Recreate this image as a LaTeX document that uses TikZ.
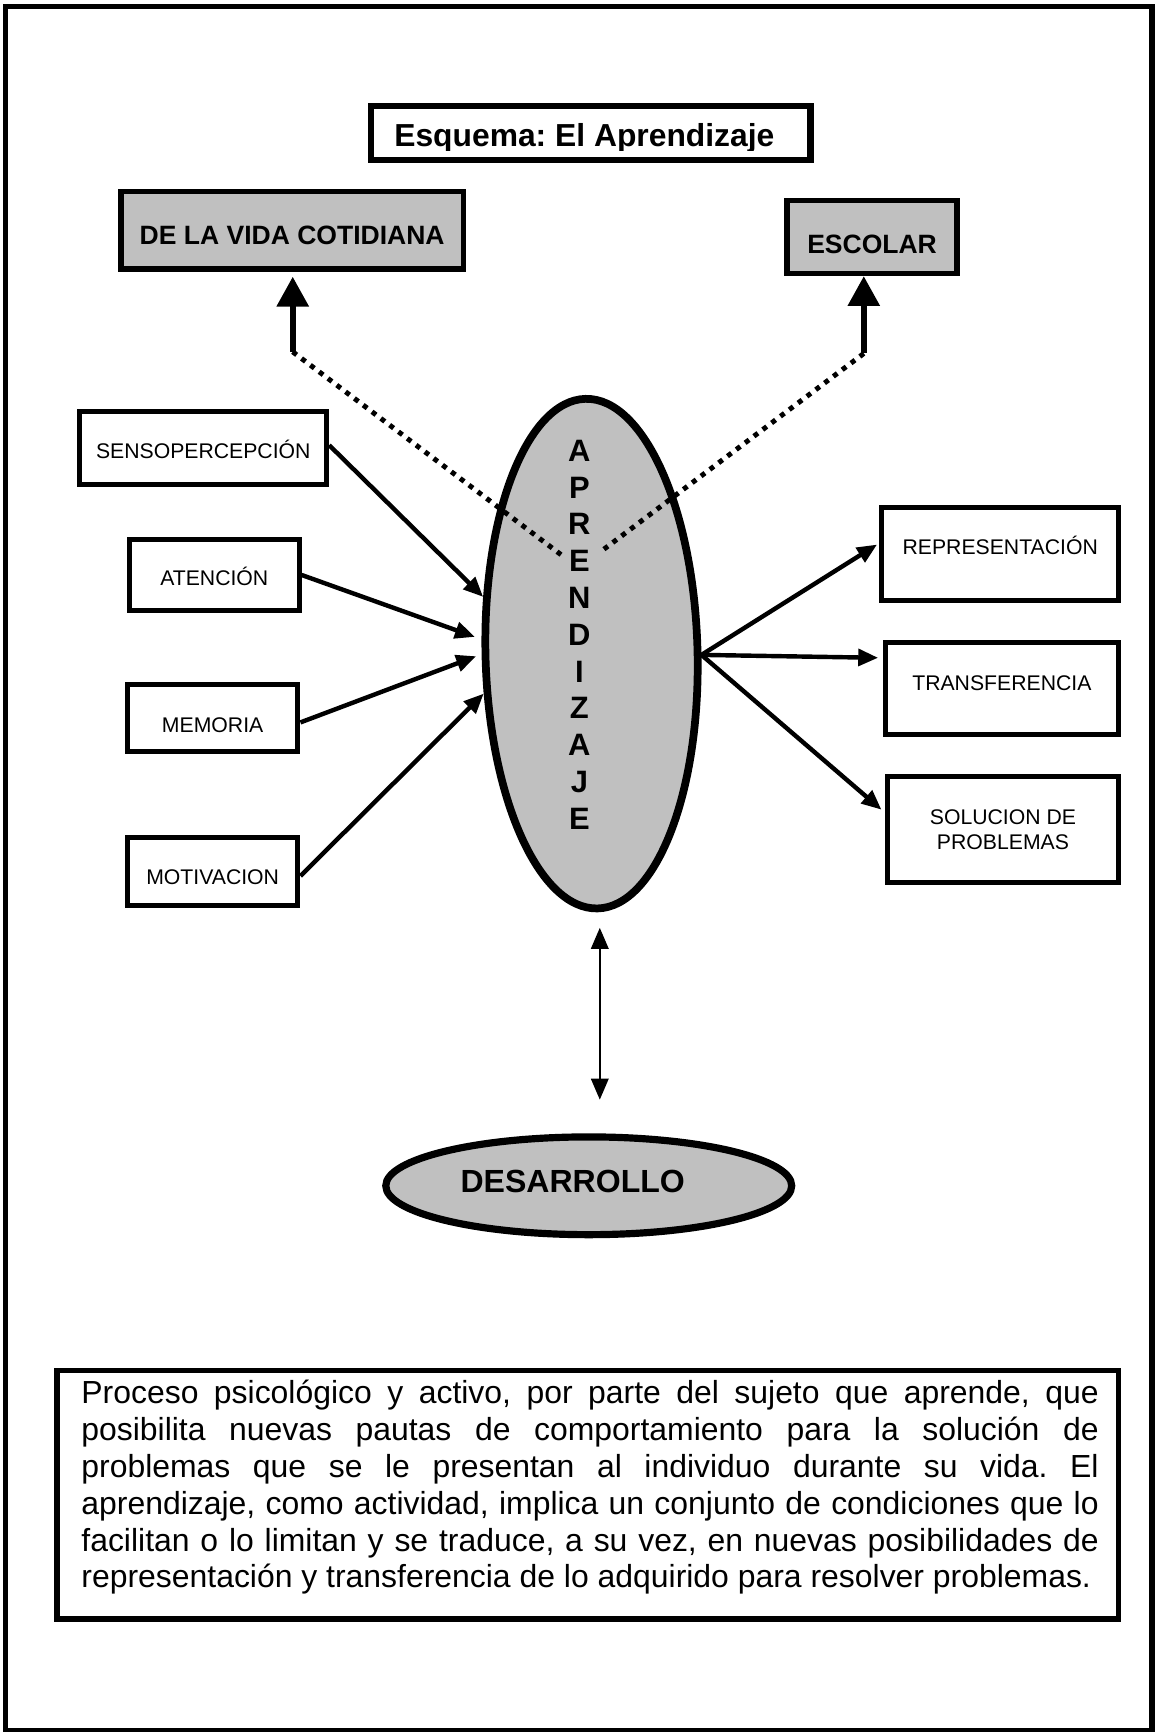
\documentclass[tikz,border=0pt]{standalone}
\usepackage{fontspec}
\setmainfont{Liberation Sans}
\usetikzlibrary{arrows.meta,shapes.geometric}
\definecolor{boxgray}{HTML}{C0C0C0}
\newcommand{\fsz}[1]{\fontsize{#1}{#1}\selectfont}
\begin{document}
\frenchspacing
\begin{tikzpicture}[x=1pt,y=1pt,
  wbox/.style={draw, line width=4.5pt, fill=white, rectangle, inner sep=0pt, font=\fsz{19.2}},
  gbox/.style={draw, line width=5pt, fill=boxgray, rectangle, inner sep=0pt, font=\fsz{24}\bfseries},
  inarr/.style={line width=4pt, -{Triangle[length=18pt,width=15pt]}},
  uparr/.style={line width=5.5pt, -{Triangle[length=27pt,width=28pt]}},
  dotline/.style={line width=4.5pt, dash pattern=on 4.5pt off 5.5pt},
  dblarr/.style={line width=1.3pt, {Triangle[length=19pt,width=16pt]}-{Triangle[length=19pt,width=16pt]}}
]
\useasboundingbox (0,0) rectangle (1049,-1568);
\fill[white] (0,0) rectangle (1049,-1568);
% outer frame
\draw[line width=5pt] (5,-6) rectangle (1043,-1567);

% title
\node[draw, line width=6pt, minimum width=398pt, minimum height=49pt, inner sep=0pt] (title) at (535,-120.5) {};
\begin{scope}
  \clip (333,-93) rectangle (737,-136);
  \node[font=\fsz{28.8}\bfseries, anchor=base, inner sep=0pt] (titletxt) at (529,-133) {Esquema: El Aprendizaje};
\end{scope}

% top gray boxes
\node[gbox, minimum width=310pt, minimum height=70pt, text height=26.2pt, text depth=0pt] (vida) at (264.5,-208.5) {DE LA VIDA COTIDIANA};
\node[gbox, minimum width=154pt, minimum height=66pt, text height=30.2pt, text depth=0pt] (escolar) at (789.5,-214.5) {ESCOLAR};

% central ellipse
\node[ellipse, draw, line width=7pt, fill=boxgray, minimum width=192pt, minimum height=461.5pt, inner sep=0pt, rotate=1.35] (aprend) at (535.5,-591.75) {};

% left boxes
\node[wbox, minimum width=223.5pt, minimum height=66.5pt, text height=18.7pt, text depth=0pt] (senso) at (184,-405.5) {SENSOPERCEPCIÓN};
\node[wbox, minimum width=153.5pt, minimum height=64.5pt, text height=18.7pt, text depth=0pt] (aten) at (194,-520.5) {ATENCIÓN};
\node[wbox, minimum width=154.5pt, minimum height=61.5pt, text height=25.7pt, text depth=0pt] (memo) at (192.5,-650) {MEMORIA};
\node[wbox, minimum width=154.5pt, minimum height=61.5pt, text height=23.7pt, text depth=0pt] (moti) at (192.5,-789) {MOTIVACION};

% right boxes
\node[wbox, minimum width=214.5pt, minimum height=84.5pt, text height=0.7pt, text depth=0pt] (rep) at (905.5,-501.5) {REPRESENTACIÓN};
\node[wbox, minimum width=211.5pt, minimum height=83.5pt, text height=3.7pt, text depth=0pt] (trans) at (907,-623) {TRANSFERENCIA};
\node[wbox, minimum width=209.5pt, minimum height=95.5pt, align=center, font=\fontsize{19.2}{23}\selectfont] (sol) at (908,-751) {SOLUCION DE\\PROBLEMAS};

% up arrows and dotted lines
\coordinate (vl) at (265,-318.5);
\coordinate (er) at (782,-320);
\coordinate (dl) at (509,-503);
\coordinate (dr) at (543,-500);
\draw[uparr, shorten >=4.5pt] (vl) -- (vl |- vida.south);
\draw[uparr] (er) -- (er |- escolar.south);
\draw[dotline] (vl) -- (dl);
\draw[dotline] (er) -- (dr);

% letters
\node[font=\fontsize{28}{33.3}\selectfont\bfseries, align=center, inner sep=0pt] (aprtxt) at (524.5,-574.5) {A\\P\\R\\E\\N\\D\\I\\Z\\A\\J\\E};

% incoming arrows
\draw[inarr] ([yshift=2.5pt]senso.east) -- (aprend.151);
\draw[inarr] (aten.east) -- ([xshift=-6pt]aprend.170.2);
\draw[inarr] ([yshift=-4pt]memo.east) -- ([xshift=-5pt]aprend.180.4);
\draw[inarr] ([yshift=-4pt]moti.east) -- (aprend.199.9);

% outgoing arrows
\draw[inarr] (aprend.-2.6) -- ([xshift=-2pt,yshift=8.5pt]rep.west);
\draw[inarr] (aprend.-2.6) -- ([xshift=-4pt,yshift=27.5pt]trans.west);
\draw[inarr] (aprend.-2.6) -- ([xshift=-3pt,yshift=18pt]sol.west);

% desarrollo
\node[ellipse, draw, line width=6.5pt, fill=boxgray, minimum width=367.5pt, minimum height=88.5pt, inner sep=0pt, font=\fsz{29}\bfseries, text height=11.8pt, text depth=0pt] (desa) at (533,-1073.5) {DESARROLLO\hspace*{29pt}};
\coordinate (dtop) at (543,-840);
\coordinate (dbot) at (543,-995.5);
\draw[dblarr] (dtop) -- (dbot);

% description
\node[draw, line width=5pt, minimum width=961pt, minimum height=225pt, inner sep=0pt] (descbox) at (532,-1353) {};
\node[anchor=base west, inner sep=0pt] (desc) at (73.5,-1271) {\vtop{\hsize=921pt \parindent=0pt \frenchspacing \fontsize{28.9}{33.3}\selectfont
\makebox[\hsize][s]{Proceso psicológico y activo, por parte del sujeto que aprende, que}\par
\makebox[\hsize][s]{posibilita nuevas pautas de comportamiento para la solución de}\par
\makebox[\hsize][s]{problemas que se le presentan al individuo durante su vida. El}\par
\makebox[\hsize][s]{aprendizaje, como actividad, implica un conjunto de condiciones que lo}\par
\makebox[\hsize][s]{facilitan o lo limitan y se traduce, a su vez, en nuevas posibilidades de}\par
\makebox[\hsize][l]{representación y transferencia de lo adquirido para resolver problemas.}\par}};
\end{tikzpicture}
\end{document}
